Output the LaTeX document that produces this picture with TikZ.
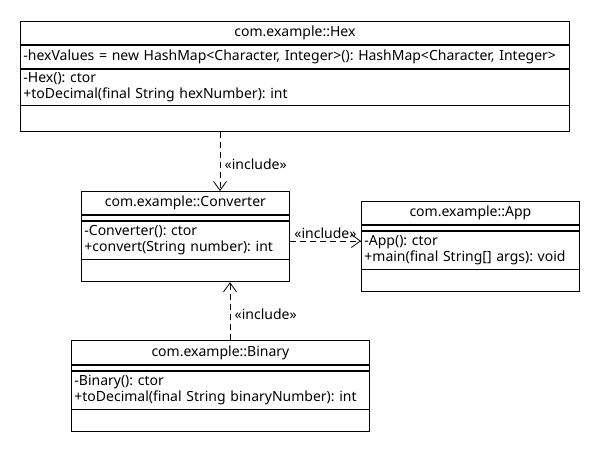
\documentclass[tikz,border=0pt]{standalone}
\usepackage{fontspec}
\setmainfont{Noto Sans}
\usetikzlibrary{positioning,arrows.meta}
\frenchspacing

\begin{document}
\begin{tikzpicture}[x=1pt,y=-1pt,
        every node/.style={font=\fontsize{14}{15.5}\selectfont},
        title/.style={draw, line width=0.8pt, inner sep=0pt, anchor=north west},
        row/.style={draw, line width=0.8pt, inner xsep=3pt, inner ysep=0pt, align=left},
        inc/.style={dashed, dash pattern=on 6pt off 4pt, line width=0.8pt, -{Straight Barb[length=9pt,width=13pt]}}]
        \useasboundingbox (0,0) rectangle (600,450);
        % class Hex
        \node[title, minimum width=549pt, minimum height=23pt] (hex) at (20,21) {com.example::Hex};
        \node[row, below=0pt of hex, text width=543pt, minimum height=23pt] (hexA) {-hexValues = new HashMap<Character, Integer>(): HashMap<Character, Integer>};
        \node[row, below=0pt of hexA, text width=543pt, minimum height=36pt] (hexM) {-Hex(): ctor\\+toDecimal(final String hexNumber): int};
        \node[row, below=0pt of hexM, text width=543pt, minimum height=26pt] (hexE) {};
        % class Converter
        \node[title, minimum width=208pt, minimum height=23pt] (conv) at (81,191) {com.example::Converter};
        \node[row, below=0pt of conv, text width=202pt, minimum height=5pt] (convA) {};
        \node[row, below=0pt of convA, text width=202pt, minimum height=38pt] (convM) {-Converter(): ctor\\+convert(String number): int};
        \node[row, below=0pt of convM, text width=202pt, minimum height=22pt] (convE) {};
        % class App
        \node[title, minimum width=218pt, minimum height=23pt] (app) at (361,201) {com.example::App};
        \node[row, below=0pt of app, text width=212pt, minimum height=5pt] (appA) {};
        \node[row, below=0pt of appA, text width=212pt, minimum height=38pt] (appM) {-App(): ctor\\+main(final String[] args): void};
        \node[row, below=0pt of appM, text width=212pt, minimum height=22pt] (appE) {};
        % class Binary
        \node[title, minimum width=298pt, minimum height=24pt] (bin) at (71,340) {com.example::Binary};
        \node[row, below=0pt of bin, text width=292pt, minimum height=5pt] (binA) {};
        \node[row, below=0pt of binA, text width=292pt, minimum height=38pt] (binM) {-Binary(): ctor\\+toDecimal(final String binaryNumber): int};
        \node[row, below=0pt of binM, text width=292pt, minimum height=22pt] (binE) {};
        % include links
        \coordinate (c1) at (220,0);
        \coordinate (c2) at (0,241);
        \coordinate (c3) at (230,0);
        \draw[inc] (hexE.south -| c1) -- node[pos=0.55, right=1pt] {«include»} (conv.north -| c1);
        \draw[inc] (convM.east |- c2) -- node[above=-1pt] {«include»} (appM.west |- c2);
        \draw[inc] (bin.north -| c3) -- node[pos=0.45, right=1pt] {«include»} (convE.south -| c3);
    \end{tikzpicture}
\end{document}
